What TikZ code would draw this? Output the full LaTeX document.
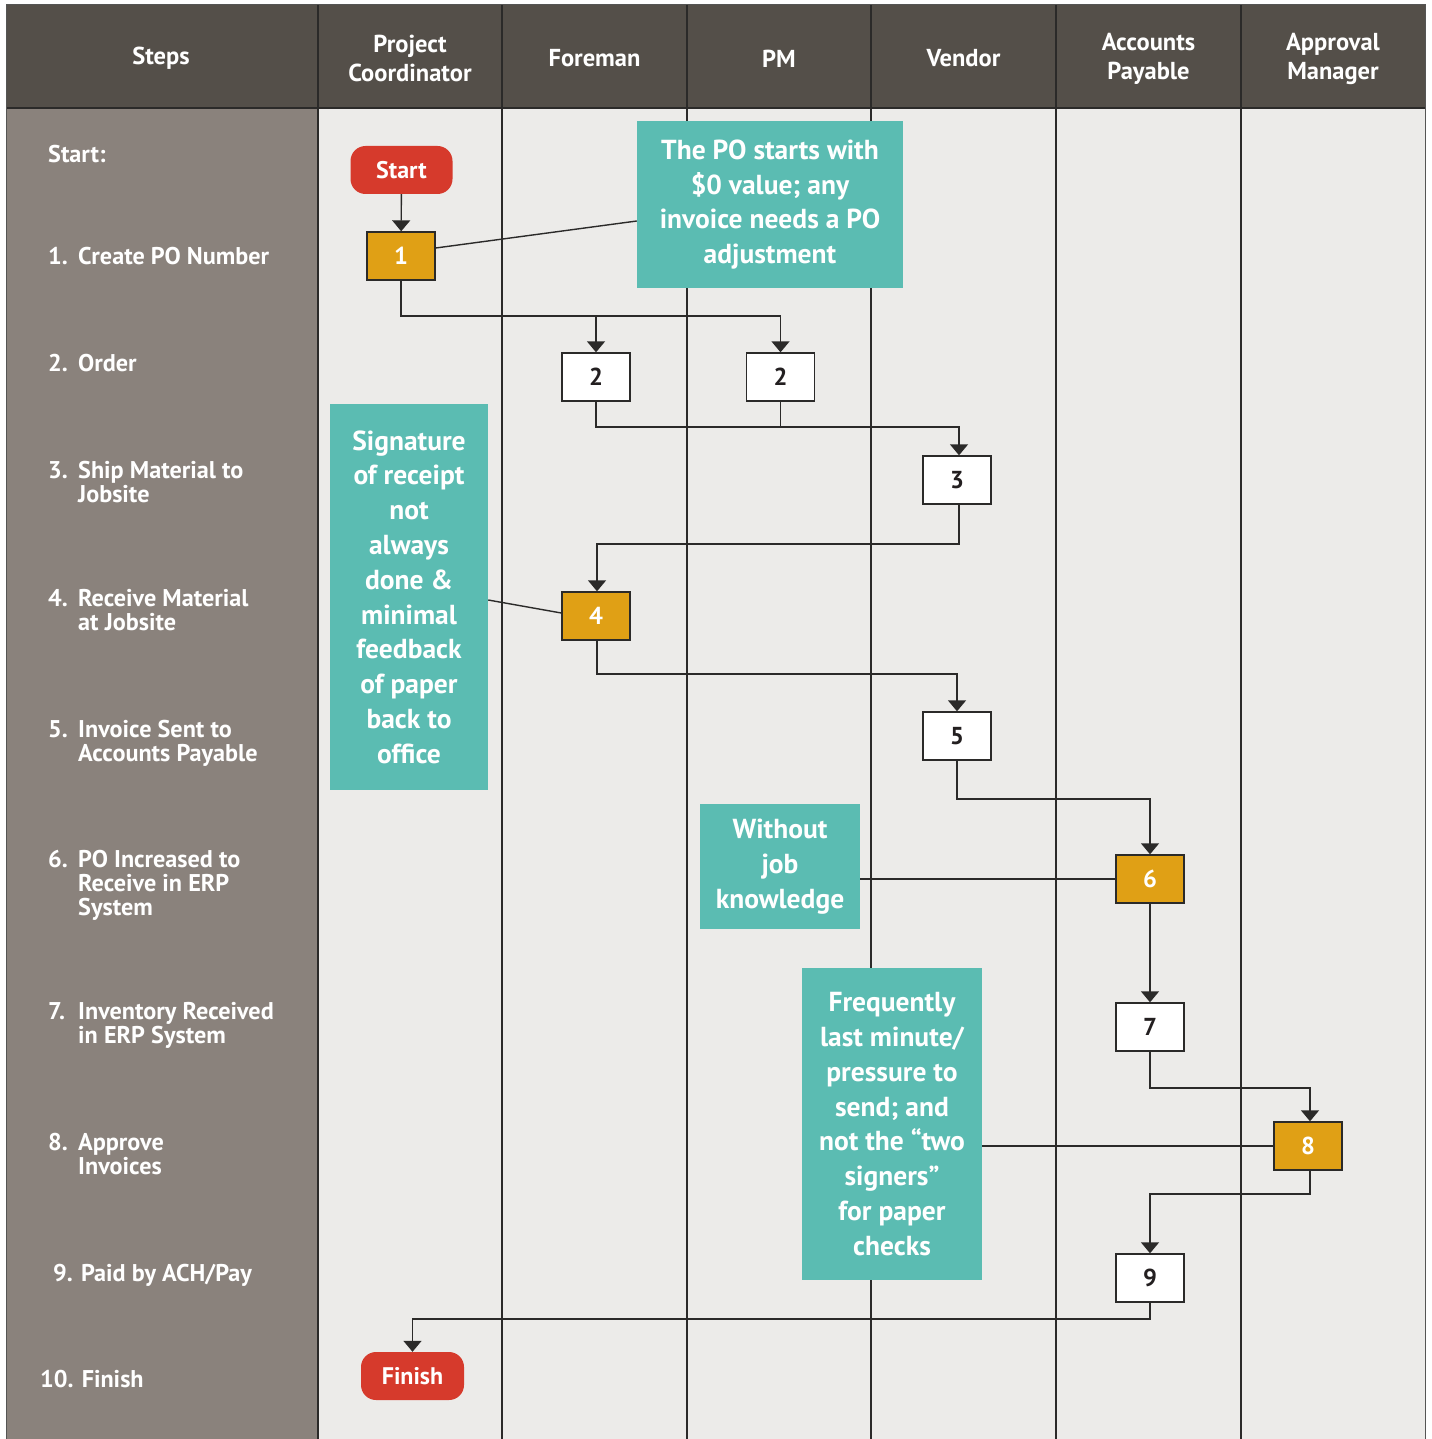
\documentclass[tikz,border=0pt]{standalone}
\usepackage{fontspec}
\setmainfont{PT Sans}
\usetikzlibrary{arrows.meta,calc}
\definecolor{headc}{HTML}{544F49}
\definecolor{stepc}{HTML}{8A827C}
\definecolor{lanec}{HTML}{ECEBE9}
\definecolor{linec}{HTML}{2B2A29}
\definecolor{tealc}{HTML}{5BBCB2}
\definecolor{orangec}{HTML}{E0A015}
\definecolor{redc}{HTML}{D63A2C}
\definecolor{txtdark}{HTML}{231F20}
% step names: first line sits on the node's baseline
\newcommand{\steplines}[1]{\begin{tabular}[t]{@{}l@{}}#1\end{tabular}}
\begin{document}
\begin{tikzpicture}[x=1pt,y=-1pt,
  line/.style={draw=linec, line width=1.4pt},
  flow/.style={line, -{Triangle[width=18pt,length=11pt]}},
  stepbox/.style={draw=linec, line width=1.4pt, fill=white, text=txtdark,
    minimum width=68pt, minimum height=48pt, inner sep=0pt,
    font=\bfseries\fontsize{24.5}{26}\selectfont},
  keybox/.style={stepbox, fill=orangec, text=white},
  term/.style={fill=redc, text=white, rounded corners=15pt,
    minimum height=48pt, inner sep=0pt,
    font=\bfseries\fontsize{24}{26}\selectfont},
  note/.style={fill=tealc, text=white, align=center, inner sep=0pt,
    font=\bfseries\fontsize{27.5}{34.8}\selectfont},
  head/.style={text=white, align=center, inner sep=0pt,
    font=\bfseries\fontsize{24.5}{29}\selectfont},
  num/.style={text=white, anchor=base west, inner sep=0pt,
    font=\bfseries\fontsize{24.2}{24}\selectfont},
  label/.style={num}]

\useasboundingbox (0,0) rectangle (1431,1439);

% backgrounds
\fill[lanec] (6,5) rectangle (1425,1439);
\fill[stepc] (6,108) rectangle (318,1439);
\fill[headc] (6,5) rectangle (1425,108);

% lane separators
\foreach \x in {318,502,687,871,1056,1241}
  \draw[linec, line width=1.4pt] (\x,5) -- (\x,1439);
\draw[linec, line width=1.4pt] (6,108) -- (1425,108);
\draw[linec!80, line width=1pt] (6,1439) -- (6,5) -- (1425,5) -- (1425,1439);

% column headings
\node[head] (hSteps) at (161,58.5) {Steps};
\node[head] (hPC) at (410,58.5) {Project\\Coordinator};
\node[head] (hFM) at (594.5,58.5) {Foreman};
\node[head] (hPM) at (779,58.5) {PM};
\node[head] (hVN) at (963.5,58.5) {Vendor};
\node[head] (hAP) at (1148.5,58.5) {Accounts\\Payable};
\node[head] (hAM) at (1333,58.5) {Approval\\Manager};

% step names
\node[num] (s0) at (48,163) {Start:};
\node[num] (k1) at (48,265) {1.};
\node[label] (s1) at (78,265) {Create PO Number};
\node[num] (k2) at (48,371) {2.};
\node[label] (s2) at (78,371) {Order};
\node[num] (k3) at (48,478) {3.};
\node[label] (s3) at (78,478) {\steplines{Ship Material to\\Jobsite}};
\node[num] (k4) at (48,606) {4.};
\node[label] (s4) at (78,606) {\steplines{Receive Material\\at Jobsite}};
\node[num] (k5) at (48,737) {5.};
\node[label] (s5) at (78,737) {\steplines{Invoice Sent to\\Accounts Payable}};
\node[num] (k6) at (48,867) {6.};
\node[label] (s6) at (78,867) {\steplines{PO Increased to\\Receive in ERP\\System}};
\node[num] (k7) at (48,1019) {7.};
\node[label] (s7) at (78,1019) {\steplines{Inventory Received\\in ERP System}};
\node[num] (k8) at (48,1150) {8.};
\node[label] (s8) at (78,1150) {\steplines{Approve\\Invoices}};
\node[num] (s9) at (53,1281) {9. Paid by ACH/Pay};
\node[num] (s10) at (40,1387) {10. Finish};

% flow nodes
\node[term, minimum width=102pt] (st) at (401.5,170) {Start};
\node[keybox] (n1) at (401,256) {1};
\node[stepbox] (n2a) at (596,377) {2};
\node[stepbox] (n2b) at (780.5,377) {2};
\node[stepbox] (n3) at (957,480) {3};
\node[keybox] (n4) at (596,616) {4};
\node[stepbox] (n5) at (957,736) {5};
\node[keybox] (n6) at (1150,879) {6};
\node[stepbox] (n7) at (1150,1027) {7};
\node[keybox] (n8) at (1308,1146) {8};
\node[stepbox] (n9) at (1150,1278) {9};
\node[term, minimum width=103pt] (fin) at (412.5,1376) {Finish};

% remarks
\node[note, minimum width=266pt, minimum height=167pt] (nA) at (770,204.5)
  {The PO starts with\\\$0 value; any\\invoice needs a PO\\adjustment};
\node[note, minimum width=158pt, minimum height=386pt] (nB) at (409,597)
  {Signature\\of receipt\\not\\always\\done \&\\minimal\\feedback\\of paper\\back to\\office};
\node[note, minimum width=160pt, minimum height=125pt] (nC) at (780,866.5)
  {Without\\job\\knowledge};
\node[note, minimum width=180pt, minimum height=312pt] (nD) at (892,1124)
  {Frequently\\last minute/\\pressure to\\send; and\\not the “two\\signers”\\for paper\\checks};

% junction levels of the elbow connectors
\coordinate (j1) at (0,316);
\coordinate (j2) at (0,427);
\coordinate (j3) at (0,544);
\coordinate (j4) at (0,674);
\coordinate (j5) at (0,799);
\coordinate (j7) at (0,1088);
\coordinate (j8) at (0,1194);
\coordinate (j9) at (0,1319);

% connectors
\draw[flow] (st) -- (n1);
\draw[line] ([yshift=8pt]n1.east) -- ([yshift=-16.5pt]nA.west);
\draw[flow] (n1.south) -- (n1.south |- j1) -| (n2b.north);
\draw[flow] (n2a.north |- j1) -- (n2a.north);
\draw[flow] (n2a.south) -- (n2a.south |- j2) -| ([xshift=2pt]n3.north);
\draw[line] (n2b.south) -- (n2b.south |- j2);
\draw[flow] ([xshift=2pt]n3.south) -- ([xshift=2pt]n3.south |- j3) -| ([xshift=1pt]n4.north);
\draw[line] ([yshift=3pt]n4.west) -- ([yshift=-3pt]nB.east);
\draw[flow] ([xshift=1pt]n4.south) -- ([xshift=1pt]n4.south |- j4) -| (n5.north);
\draw[flow] (n5.south) -- (n5.south |- j5) -| (n6.north);
\draw[line] (n6.west) -- (nC.east |- n6.west);
\draw[flow] (n6) -- (n7);
\draw[flow] (n7.south) -- (n7.south |- j7) -| ([xshift=2pt]n8.north);
\draw[line] (n8.west) -- (nD.east |- n8.west);
\draw[flow] ([xshift=2pt]n8.south) -- ([xshift=2pt]n8.south |- j8) -| (n9.north);
\draw[flow] (n9.south) -- (n9.south |- j9) -| (fin.north);
\end{tikzpicture}
\end{document}
